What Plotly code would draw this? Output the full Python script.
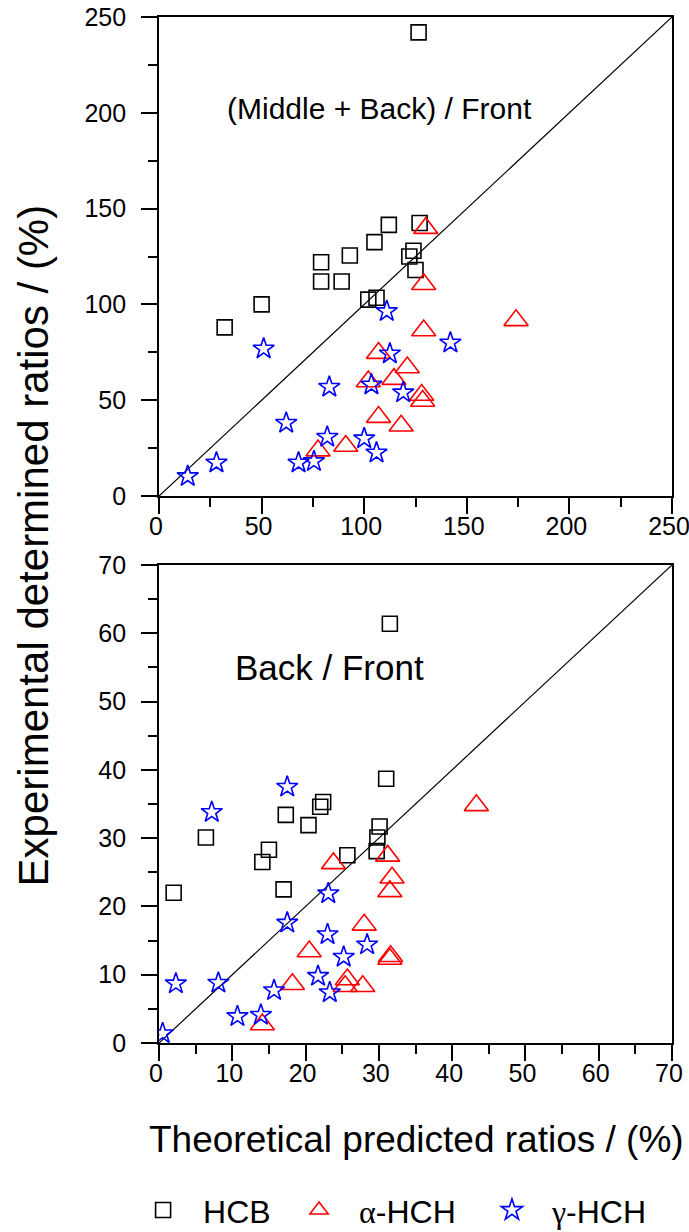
import plotly.graph_objects as go

# ---- (Middle + Back) / Front : theoretical vs experimental ratios (%) ----
hcb_top_x = [126.5, 32, 50, 79, 79, 89, 93, 105, 112, 102, 106, 127, 124, 122, 125]
hcb_top_y = [242, 88, 100, 122, 112, 112, 125.5, 132.5, 141.5, 102.5, 103.5, 142.5, 128, 125, 118]

ahch_top_x = [130, 129, 129, 174, 107, 121, 114.5, 102, 128, 128.5, 107, 118, 91, 77.5]
ahch_top_y = [139.8, 110.5, 86.4, 91.7, 74.6, 67.1, 61.0, 59.8, 52.7, 49.6, 41.2, 36.7, 26.1, 23.7]

ghch_top_x = [14, 28, 51, 62, 68, 75.5, 83, 82, 100, 106, 103.5, 112.5, 111, 119, 142]
ghch_top_y = [10.3, 17.4, 76.9, 38.1, 17.4, 18.1, 56.9, 30.8, 30, 22.6, 58.1, 74.3, 96.4, 54, 80]

# ---- Back / Front ----
hcb_bot_x = [31.5, 31, 6.4, 17.3, 22.4, 22, 20.4, 15, 14.1, 2, 17, 25.7, 30.1, 29.8, 29.7]
hcb_bot_y = [61.4, 38.7, 30.1, 33.4, 35.3, 34.6, 31.9, 28.3, 26.5, 22, 22.5, 27.5, 31.7, 30.1, 28.1]

ahch_bot_x = [43.3, 23.8, 31.2, 31.8, 31.5, 28, 20.5, 31.6, 31.5, 18.2, 25.7, 25.4, 27.8, 14.1]
ahch_bot_y = [34.8, 26.3, 27.4, 24.2, 22.2, 17.3, 13.4, 12.7, 12.3, 8.6, 9.3, 8.3, 8.3, 2.7]

ghch_bot_x = [0.5, 2.3, 8.1, 10.7, 13.9, 15.7, 17.5, 23.1, 23, 21.7, 23.3, 25.2, 28.4, 7.2, 17.5]
ghch_bot_y = [1.4, 8.7, 8.8, 3.9, 4.1, 7.7, 17.6, 21.9, 15.9, 9.8, 7.4, 12.6, 14.4, 33.8, 37.5]

top_max = 250
bot_max = 70

SANS = "Liberation Sans, Arial, sans-serif"
SERIF = "Liberation Serif, Times New Roman, serif"

names = ["HCB",
         f'<span style="font-family:{SERIF}">α</span>-HCH',
         f'<span style="font-family:{SERIF}">γ</span>-HCH']
symbols = ["square-open", "triangle-up-open", "star-open"]
colors = ["black", "red", "blue"]
sizes = [15, 21, 16]

fig = go.Figure()

# 1:1 reference lines
fig.add_trace(go.Scatter(x=[0, top_max], y=[0, top_max], mode="lines",
                         line=dict(color="black", width=1.2),
                         showlegend=False, hoverinfo="skip", xaxis="x", yaxis="y"))
fig.add_trace(go.Scatter(x=[0, bot_max], y=[0, bot_max], mode="lines",
                         line=dict(color="black", width=1.2),
                         showlegend=False, hoverinfo="skip", xaxis="x2", yaxis="y2"))

top_sets = [(hcb_top_x, hcb_top_y), (ahch_top_x, ahch_top_y), (ghch_top_x, ghch_top_y)]
bot_sets = [(hcb_bot_x, hcb_bot_y), (ahch_bot_x, ahch_bot_y), (ghch_bot_x, ghch_bot_y)]
legends = ["legend", "legend2", "legend3"]

for i in range(3):
    mk = dict(symbol=symbols[i], size=sizes[i], color=colors[i],
              line=dict(color=colors[i], width=1.6))
    fig.add_trace(go.Scatter(x=top_sets[i][0], y=top_sets[i][1], mode="markers",
                             marker=mk, name=names[i], legend=legends[i],
                             showlegend=True, xaxis="x", yaxis="y"))
    fig.add_trace(go.Scatter(x=bot_sets[i][0], y=bot_sets[i][1], mode="markers",
                             marker=mk, name=names[i], legend=legends[i],
                             showlegend=False, xaxis="x2", yaxis="y2"))

axis_common = dict(showline=True, linecolor="black", linewidth=1.8, mirror=True,
                   ticks="outside", ticklen=16, tickwidth=1.5, tickcolor="black",
                   showgrid=False, zeroline=False, automargin=False,
                   ticklabeloverflow="allow",
                   tickfont=dict(family=SANS, size=25, color="black"))

def minor(d):
    return dict(dtick=d, ticklen=9, ticks="outside", tickcolor="black", tickwidth=1.5)

fig.update_layout(
    width=689, height=1232,
    margin=dict(l=159, r=17, t=17, b=189, autoexpand=False),
    plot_bgcolor="white", paper_bgcolor="white",
    xaxis=dict(domain=[0, 1], anchor="y", range=[0, top_max], dtick=50,
               minor=minor(25), ticklabelstandoff=-9, ticklabelshift=-3, **axis_common),
    yaxis=dict(domain=[0.5331, 1], anchor="x", range=[0, top_max], dtick=50,
               minor=minor(25), ticklabelstandoff=10, **axis_common),
    xaxis2=dict(domain=[0, 1], anchor="y2", range=[0, bot_max], dtick=10,
                minor=minor(5), ticklabelstandoff=-9, ticklabelshift=-3, **axis_common),
    yaxis2=dict(domain=[0, 0.4659], anchor="x2", range=[0, bot_max], dtick=10,
                minor=minor(5), ticklabelstandoff=10, **axis_common),
    showlegend=True,
)

leg_common = dict(orientation="h", xref="paper", yref="paper", yanchor="middle",
                  xanchor="left", bgcolor="rgba(0,0,0,0)", borderwidth=0,
                  font=dict(family=SANS, size=32, color="black"), itemwidth=70)
fig.update_layout(
    legend=dict(x=-0.07, y=-0.163, **leg_common),
    legend2=dict(x=0.234, y=-0.163, **leg_common),
    legend3=dict(x=0.61, y=-0.163, **leg_common),
)

fig.add_annotation(text="(Middle + Back) / Front", x=107.6, y=202, xref="x", yref="y",
                   showarrow=False, font=dict(family=SANS, size=30, color="black"))
fig.add_annotation(text="Back / Front", x=23.3, y=55, xref="x2", yref="y2",
                   showarrow=False, font=dict(family=SANS, size=35, color="black"))

fig.add_annotation(text="Theoretical predicted ratios / (%)", x=0.501, y=-0.0945,
                   xref="paper", yref="paper", showarrow=False,
                   xanchor="center", yanchor="middle",
                   font=dict(family=SANS, size=37, color="black"))
fig.add_annotation(text="Experimental determined ratios / (%)", x=-0.2456, y=0.485,
                   xref="paper", yref="paper", showarrow=False, textangle=-90,
                   xanchor="center", yanchor="middle",
                   font=dict(family=SANS, size=42, color="black"))

fig.write_html("out.html")
